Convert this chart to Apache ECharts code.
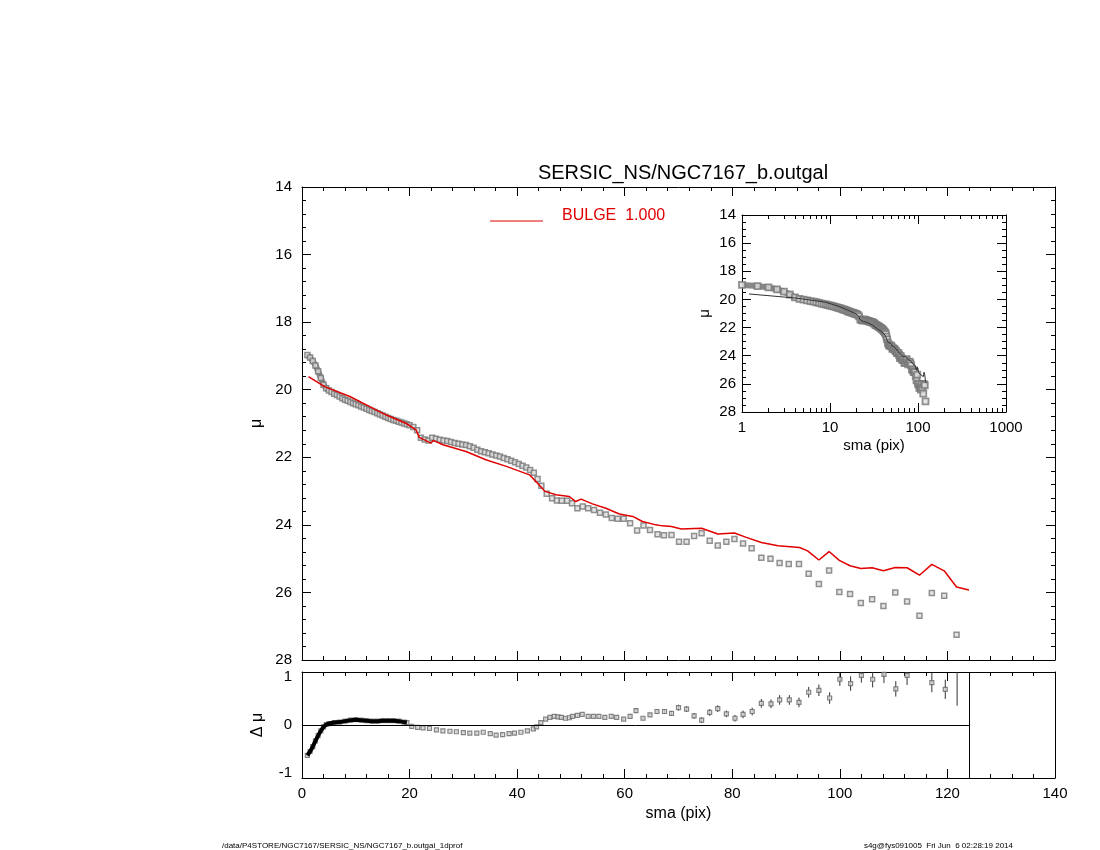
<!DOCTYPE html>
<html>
<head>
<meta charset="utf-8">
<script src="https://cdn.jsdelivr.net/npm/echarts@6/dist/echarts.min.js"></script>
<style>html,body{margin:0;background:#fff}#c{width:1100px;height:850px}</style>
</head>
<body>
<div id="c"></div>
<script>
var titleText = 'SERSIC_NS/NGC7167_b.outgal';
var sma = [1,1.5,2,2.5,3,3.5,4,4.5,5,5.5,6,6.5,7,7.5,8,8.5,9,9.5,10,10.5,11,11.5,12,12.5,13,13.5,14,14.5,15,15.5,16,16.5,17,17.5,18,18.5,19,19.5,20,
  20.7,21.4,22.1,22.8,23.5,24.2,24.9,25.6,26.3,27,27.7,28.4,29.1,29.8,30.5,31.2,31.9,32.6,33.3,34,34.7,35.4,36.1,36.8,37.5,38.2,38.9,39.6,40.3,41,41.7,42.4,43.1,43.8,44.5,
  45.5,46.5,47.4,48.3,49.3,50.2,51.2,52.2,53.2,54.3,55.4,56.5,57.6,58.7,59.8,61,62.3,63.5,64.7,66.1,67.3,68.7,70.1,71.5,72.9,74.3,75.8,77.3,78.9,80.4,82,83.6,85.4,87.1,88.8,90.5,92.4,94.2,96.1,98,99.9,101.9,103.9,106,108.1,110.3,112.5,114.8,117.1,119.4,121.7];
var mu = [18.97,19.05,19.15,19.28,19.45,19.65,19.85,19.96,20.02,20.07,20.12,20.16,20.2,20.25,20.3,20.33,20.36,20.4,20.43,20.46,20.5,20.53,20.56,20.6,20.63,20.66,20.7,20.73,20.76,20.8,20.84,20.87,20.9,20.92,20.95,20.97,21.0,21.02,21.05,
  21.1,21.2,21.42,21.47,21.5,21.42,21.45,21.48,21.5,21.52,21.55,21.58,21.6,21.62,21.64,21.67,21.72,21.78,21.82,21.85,21.88,21.92,21.95,21.98,22.02,22.06,22.1,22.15,22.2,22.25,22.3,22.38,22.46,22.64,22.84,
  23.08,23.21,23.28,23.29,23.29,23.36,23.51,23.46,23.51,23.56,23.64,23.69,23.8,23.82,23.82,23.95,24.17,24.02,24.15,24.28,24.31,24.3,24.5,24.5,24.33,24.25,24.47,24.61,24.5,24.42,24.55,24.69,24.97,25.0,25.13,25.16,25.16,25.45,25.75,25.35,25.99,26.05,26.31,26.2,26.4,26.0,26.27,26.69,26.02,26.1,27.25];
var modelSma = [1.2,4.2,8.9,12.6,15.7,19.4,21.2,21.8,24,24.4,26.2,30.5,34.3,38,42.3,43.5,45.2,47.2,49.7,50.9,51.9,54,56.5,59,61.5,63.3,65.8,67,68.7,70.5,74.3,77.3,80.4,82.6,85.4,88.5,92.5,94,96.1,98,99.9,101.9,103.9,106,108.1,110.3,112.5,114.8,117.1,119.4,121.7,124];
var modelMu = [19.61,19.91,20.2,20.5,20.75,21.0,21.19,21.41,21.58,21.5,21.63,21.83,22.08,22.27,22.52,22.72,23.01,23.11,23.16,23.31,23.24,23.38,23.51,23.68,23.75,23.9,24.0,24.03,24.05,24.12,24.1,24.27,24.24,24.37,24.52,24.62,24.67,24.77,25.04,24.79,25.05,25.21,25.29,25.27,25.36,25.26,25.27,25.49,25.17,25.36,25.84,25.93];
var residSma = [1,1.5,2,2.5,3,3.5,4,4.5,5,6,7,8,9,10,11,12,13,14,15,16,17,18,19,19.5,
  20.4,21.5,22.5,23.7,25,26.2,27.5,28.7,30,31.2,32.5,33.7,35,36.1,37.3,38.5,39.5,40.7,41.9,43,
  43.6,44.4,45.3,46.1,46.9,47.6,48.2,49,49.7,50.3,51.2,52.1,53.2,54.2,55.2,56.3,57.5,58.5,59.8,
  61,62.1,63.4,64.7,66,67.4,68.7,70,71.5,72.9,74.3,75.8,77.3,78.9,80.5,82,83.7,85.4,87.2,88.8,90.6,92.4,94.2,96.1,98.1,100,102,104,106.1,108.2,110.4,112.5,117.1,119.6,121.8];
var residVal = [-0.63,-0.55,-0.45,-0.33,-0.22,-0.12,-0.04,0.01,0.03,0.05,0.06,0.08,0.1,0.11,0.1,0.09,0.08,0.08,0.09,0.09,0.09,0.08,0.06,0.05,
  -0.03,-0.05,-0.06,-0.07,-0.1,-0.12,-0.13,-0.14,-0.16,-0.17,-0.17,-0.15,-0.18,-0.21,-0.2,-0.18,-0.17,-0.15,-0.12,-0.08,
  -0.04,0.05,0.12,0.16,0.18,0.17,0.16,0.14,0.15,0.18,0.2,0.22,0.18,0.18,0.18,0.16,0.18,0.16,0.12,
  0.18,0.3,0.14,0.21,0.28,0.28,0.24,0.36,0.33,0.19,0.1,0.26,0.34,0.23,0.14,0.22,0.28,0.45,0.44,0.52,0.52,0.47,0.68,0.72,0.56,0.95,0.86,1.03,0.95,1.05,0.75,1.03,0.88,0.74,1.3];
var residErr = [0.01,0.01,0.01,0.01,0.01,0.01,0.01,0.01,0.01,0.01,0.01,0.01,0.01,0.01,0.01,0.01,0.01,0.01,0.01,0.01,0.01,0.01,0.01,0.01,
  0.01,0.01,0.01,0.01,0.01,0.01,0.01,0.01,0.01,0.01,0.01,0.01,0.01,0.01,0.01,0.01,0.01,0.01,0.01,0.01,
  0.02,0.02,0.02,0.02,0.02,0.02,0.02,0.02,0.02,0.02,0.02,0.02,0.02,0.02,0.02,0.02,0.02,0.02,0.02,
  0.03,0.05,0.04,0.04,0.05,0.05,0.05,0.06,0.06,0.06,0.06,0.07,0.07,0.07,0.07,0.08,0.08,0.09,0.09,0.1,0.1,0.1,0.11,0.12,0.12,0.14,0.15,0.15,0.17,0.18,0.16,0.2,0.2,0.2,0.9];

var font = 'Liberation Sans, Arial, sans-serif';
var pts = sma.map(function (x, i) { return [x, mu[i]]; });
var model = modelSma.map(function (x, i) { return [x, modelMu[i]]; });
var resid = residSma.map(function (x, i) { return [x, residVal[i], residErr[i]]; });

function frameAxis(base, extra) {
  var o = {
    axisLine: { show: true, onZero: false, lineStyle: { color: '#000', width: 1 } },
    axisTick: { show: true, inside: true, length: 9, lineStyle: { color: '#000' } },
    minorTick: { show: true, splitNumber: 5, length: 4, lineStyle: { color: '#000' } },
    splitLine: { show: false },
    axisLabel: { show: false, color: '#000', fontFamily: font, fontSize: 15 }
  };
  for (var k in base) o[k] = base[k];
  for (var k2 in extra) o[k2] = extra[k2];
  return o;
}

var chart = echarts.init(document.getElementById('c'));
chart.setOption({
  backgroundColor: '#fff',
  animation: false,
  title: { text: titleText, left: 678, top: 158, textAlign: 'center',
    textStyle: { fontFamily: font, fontWeight: 'normal', fontSize: 20, color: '#000' } },
  grid: [
    { left: 302, top: 187, width: 753, height: 473 },
    { left: 302, top: 672, width: 753, height: 106 },
    { left: 742, top: 215, width: 264, height: 197 }
  ],
  xAxis: [
    frameAxis({ gridIndex: 0, type: 'value', min: 0, max: 140, interval: 20, position: 'bottom' }),
    frameAxis({ gridIndex: 0, type: 'value', min: 0, max: 140, interval: 20, position: 'top' }),
    frameAxis({ gridIndex: 1, type: 'value', min: 0, max: 140, interval: 20, position: 'bottom',
      name: 'sma (pix)', nameLocation: 'middle', nameGap: 28,
      nameTextStyle: { fontFamily: font, fontSize: 16, color: '#000' } },
      { axisLabel: { show: true, color: '#000', fontFamily: font, fontSize: 15, margin: 8 } }),
    frameAxis({ gridIndex: 1, type: 'value', min: 0, max: 140, interval: 20, position: 'top' }),
    frameAxis({ gridIndex: 2, type: 'log', logBase: 10, min: 1, max: 1000, position: 'bottom',
      name: 'sma (pix)', nameLocation: 'middle', nameGap: 26,
      nameTextStyle: { fontFamily: font, fontSize: 15, color: '#000' } },
      { minorTick: { show: true, splitNumber: 9, length: 4, lineStyle: { color: '#000' } },
        axisLabel: { show: true, color: '#000', fontFamily: font, fontSize: 15, margin: 8,
          formatter: function (v) { return String(Math.round(v)); } } }),
    frameAxis({ gridIndex: 2, type: 'log', logBase: 10, min: 1, max: 1000, position: 'top' },
      { minorTick: { show: true, splitNumber: 9, length: 4, lineStyle: { color: '#000' } } })
  ],
  yAxis: [
    frameAxis({ gridIndex: 0, type: 'value', inverse: true, min: 14, max: 28, interval: 2, position: 'left',
      name: 'μ', nameLocation: 'middle', nameGap: 36, nameRotate: 90,
      nameTextStyle: { fontFamily: font, fontSize: 16, color: '#000' } },
      { axisLabel: { show: true, color: '#000', fontFamily: font, fontSize: 15, margin: 10 } }),
    frameAxis({ gridIndex: 0, type: 'value', inverse: true, min: 14, max: 28, interval: 2, position: 'right' }),
    frameAxis({ gridIndex: 1, type: 'value', min: -1.1, max: 1.1, interval: 0.1, position: 'left',
      name: 'Δ μ', nameLocation: 'middle', nameGap: 36, nameRotate: 90,
      nameTextStyle: { fontFamily: font, fontSize: 16, color: '#000' } },
      { minorTick: { show: false }, axisTick: { show: false },
        axisLabel: { show: true, color: '#000', fontFamily: font, fontSize: 15, margin: 10, showMinLabel: true, showMaxLabel: true,
          formatter: function (v) { return Math.abs(v - Math.round(v)) < 1e-6 ? String(Math.round(v)) : ''; } } }),
    frameAxis({ gridIndex: 1, type: 'value', min: -1.1, max: 1.1, position: 'right' },
      { axisTick: { show: false }, minorTick: { show: false } }),
    frameAxis({ gridIndex: 2, type: 'value', inverse: true, min: 14, max: 28, interval: 2, position: 'left',
      name: 'μ', nameLocation: 'middle', nameGap: 30, nameRotate: 90,
      nameTextStyle: { fontFamily: font, fontSize: 15, color: '#000' } },
      { minorTick: { show: true, splitNumber: 4, length: 4, lineStyle: { color: '#000' } },
        axisLabel: { show: true, color: '#000', fontFamily: font, fontSize: 15, margin: 6 } }),
    frameAxis({ gridIndex: 2, type: 'value', inverse: true, min: 14, max: 28, interval: 2, position: 'right' },
      { minorTick: { show: true, splitNumber: 4, length: 4, lineStyle: { color: '#000' } } })
  ],
  graphic: [
    { type: 'line', shape: { x1: 490, y1: 221, x2: 543, y2: 221 }, style: { stroke: '#e00000', lineWidth: 1 } },
    { type: 'text', x: 562, y: 216, style: { text: 'BULGE  1.000', fill: '#e00000', font: '16px ' + font, verticalAlign: 'middle' } },
    { type: 'text', x: 222, y: 842, style: { text: '/data/P4STORE/NGC7167/SERSIC_NS/NGC7167_b.outgal_1dprof', fill: '#000', font: '8px ' + font } },
    { type: 'text', x: 1013, y: 842, style: { text: 's4g@fys091005  Fri Jun  6 02:28:19 2014', fill: '#000', font: '8px ' + font, textAlign: 'right' } }
  ],
  series: [
    { type: 'line', xAxisIndex: 0, yAxisIndex: 0, data: pts.slice(0, 9), showSymbol: false,
      lineStyle: { color: '#888', width: 6 }, z: 2 },
    { type: 'scatter', xAxisIndex: 0, yAxisIndex: 0, data: pts, symbol: 'rect', symbolSize: 5,
      itemStyle: { color: '#ddd', borderColor: '#777', borderWidth: 1.5 }, z: 2 },
    { type: 'line', xAxisIndex: 0, yAxisIndex: 0, data: model, showSymbol: false,
      lineStyle: { color: '#e00000', width: 1.5 }, z: 3 },
    { type: 'custom', xAxisIndex: 2, yAxisIndex: 2, data: resid, clip: true,
      renderItem: function (params, api) {
        var a = api.coord([api.value(0), api.value(1) - api.value(2)]);
        var b = api.coord([api.value(0), api.value(1) + api.value(2)]);
        return { type: 'line', shape: { x1: a[0], y1: a[1], x2: b[0], y2: b[1] }, style: { stroke: '#333', lineWidth: 1 } };
      }, z: 2 },
    { type: 'scatter', xAxisIndex: 2, yAxisIndex: 2, data: resid, symbol: 'rect', symbolSize: 4, clip: true,
      itemStyle: { color: '#ddd', borderColor: '#666', borderWidth: 1.2 }, z: 3,
      markLine: { silent: true, symbol: 'none', label: { show: false },
        lineStyle: { color: '#000', width: 1, type: 'solid' },
        data: [[{ coord: [0, 0] }, { coord: [124, 0] }], [{ coord: [124, -1.1] }, { coord: [124, 1.1] }]] } },
    { type: 'line', xAxisIndex: 2, yAxisIndex: 2, data: resid.slice(0, 24), showSymbol: false,
      lineStyle: { color: '#000', width: 4 }, z: 4 },
    { type: 'line', xAxisIndex: 4, yAxisIndex: 4, data: pts.slice(0, 39), showSymbol: false,
      lineStyle: { color: '#888', width: 6 }, z: 2 },
    { type: 'scatter', xAxisIndex: 4, yAxisIndex: 4, data: pts, symbol: 'rect', symbolSize: 6,
      itemStyle: { color: '#ddd', borderColor: '#777', borderWidth: 1.8 }, z: 2 },
    { type: 'line', xAxisIndex: 4, yAxisIndex: 4, data: model, showSymbol: false,
      lineStyle: { color: '#333', width: 1 }, z: 3 }
  ]
});
</script>
</body>
</html>
